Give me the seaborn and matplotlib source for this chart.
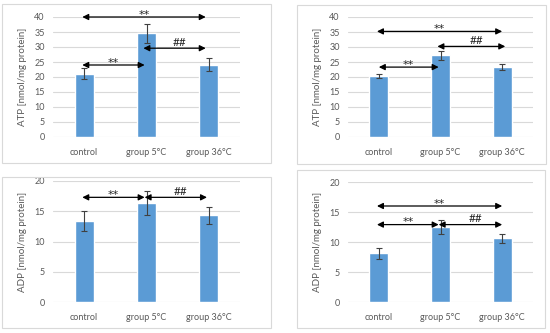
import matplotlib
matplotlib.use("Agg")
import matplotlib.pyplot as plt
import seaborn as sns
import pandas as pd
from matplotlib.patches import Rectangle

categories = ["control", "group 5°C", "group 36°C"]
atp_a = [21.1, 34.5, 24.1]
atp_a_err = [1.8, 3.3, 2.2]
atp_b = [20.3, 27.2, 23.3]
atp_b_err = [0.8, 1.4, 1.1]
adp_a = [13.4, 16.3, 14.3]
adp_a_err = [1.7, 2.0, 1.4]
adp_b = [8.1, 12.5, 10.6]
adp_b_err = [0.9, 1.2, 0.7]

sns.set_theme(style="white")
plt.rcParams["font.family"] = ["Lato", "DejaVu Sans"]

W, H = 550, 333
fig = plt.figure(figsize=(W / 100, H / 100), dpi=100)
fig.patch.set_facecolor("white")

GRAY = "#595959"
BAR = "#5B9BD5"


def fig_rect(x0, y0, x1, y1):
    return [x0 / W, 1 - y1 / H, (x1 - x0) / W, (y1 - y0) / H]


def border(x0, y0, x1, y1):
    r = Rectangle((x0 / W, 1 - y1 / H), (x1 - x0) / W, (y1 - y0) / H,
                  transform=fig.transFigure, fill=False, edgecolor="#D9D9D9", lw=0.8)
    fig.patches.append(r)


def panel(rect, vals, errs, ymax, step, ylabel, brackets):
    ax = fig.add_axes(fig_rect(*rect))
    df = pd.DataFrame({"group": categories, "value": vals})
    sns.barplot(data=df, x="group", y="value", ax=ax, color=BAR, width=0.31,
                saturation=1, errorbar=None)
    ax.errorbar(range(len(vals)), vals, yerr=errs, fmt="none", ecolor="#404040",
                elinewidth=0.8, capsize=2, capthick=0.8)
    ax.set_xlim(-0.5, 2.5)
    ax.set_ylim(0, ymax)
    ax.set_yticks(range(0, ymax + 1, step))
    ax.yaxis.grid(True, color="#D9D9D9", lw=0.8)
    ax.set_axisbelow(True)
    for s in ax.spines.values():
        s.set_visible(False)
    ax.tick_params(axis="both", length=0, labelsize=6.5, labelcolor=GRAY)
    ax.tick_params(axis="y", pad=6)
    ax.tick_params(axis="x", pad=8)
    ax.set_xlabel("")
    ax.set_ylabel(ylabel, fontsize=7, color=GRAY, labelpad=5)
    for (x0, x1, y, txt) in brackets:
        ax.annotate("", xy=(x1, y), xytext=(x0, y),
                    arrowprops=dict(arrowstyle="<|-|>", color="black", lw=0.9,
                                    mutation_scale=9, shrinkA=0, shrinkB=0),
                    annotation_clip=False)
        if txt == "**":
            ax.annotate(txt, xy=((x0 + x1) / 2, y), xytext=(0, -0.6),
                        textcoords="offset points", ha="center", va="baseline",
                        fontsize=8, family="DejaVu Sans", color="#262626",
                        annotation_clip=False)
        else:
            ax.annotate(txt, xy=((x0 + x1) / 2 + 0.08, y), xytext=(0, 0.3),
                        textcoords="offset points", ha="center", va="bottom",
                        fontsize=8.5, color="#262626", annotation_clip=False)
    return ax


border(2, 4, 271, 163)
border(297, 5, 546, 164)
border(2, 177, 271, 328)
border(297, 170, 545, 328)

panel((53, 17, 240, 137), atp_a, atp_a_err, 40, 5, "ATP [nmol/mg protein]",
      [(-0.03, 1.95, 40, "**"), (-0.03, 0.97, 24, "**"), (0.95, 1.95, 29.6, "##")])
panel((348, 17, 533, 137), atp_b, atp_b_err, 40, 5, "ATP [nmol/mg protein]",
      [(-0.03, 2.0, 35.2, "**"), (0.0, 0.97, 23.3, "**"), (0.95, 2.05, 30.2, "##")])
panel((53, 181, 240, 302), adp_a, adp_a_err, 20, 5, "ADP [nmol/mg protein]",
      [(-0.03, 0.97, 17.3, "**"), (0.97, 1.97, 17.3, "##")])
panel((348, 182, 533, 302), adp_b, adp_b_err, 20, 5, "ADP [nmol/mg protein]",
      [(-0.03, 2.0, 16.0, "**"), (-0.03, 0.97, 12.9, "**"), (0.97, 2.0, 12.9, "##")])

fig.savefig("out.png", dpi=100, facecolor="white")
